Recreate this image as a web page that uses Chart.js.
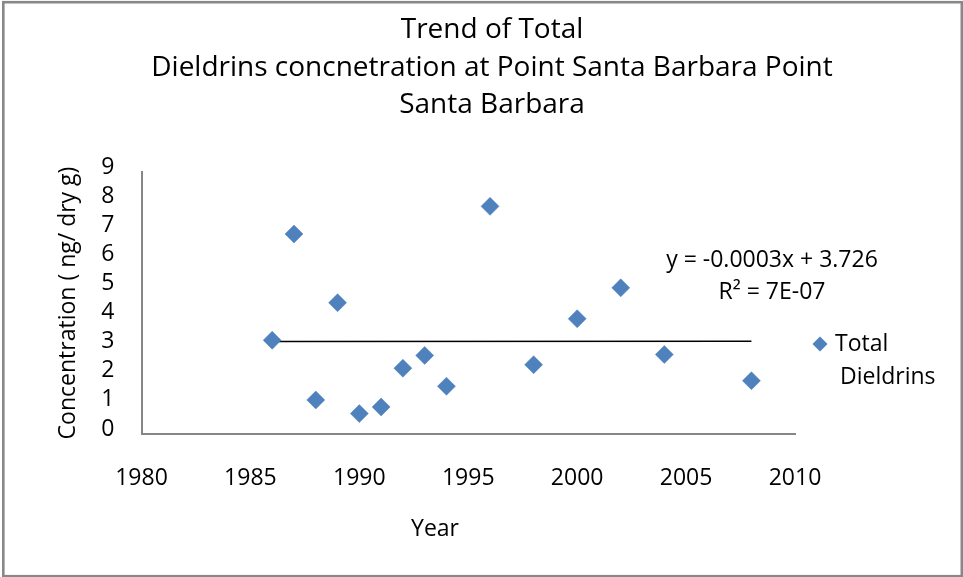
<!DOCTYPE html>
<html>
<head>
<meta charset="utf-8">
<script src="https://cdn.jsdelivr.net/npm/chart.js@4"></script>
<style>
  html, body { margin: 0; padding: 0; background: #fff; }
  #wrap { width: 963px; height: 577px; }
</style>
</head>
<body>
<div id="wrap"><canvas id="c" width="963" height="577"></canvas></div>
<script>
const titleLines = ['Trend of Total', 'Dieldrins concnetration at Point Santa Barbara Point', 'Santa Barbara'];
const years = [1986, 1987, 1988, 1989, 1990, 1991, 1992, 1993, 1994, 1996, 1998, 2000, 2002, 2004, 2008];
const dieldrins = [3.22, 6.87, 1.17, 4.51, 0.70, 0.93, 2.26, 2.70, 1.64, 7.82, 2.38, 3.96, 5.02, 2.73, 1.83];
const seriesName = ['Total', 'Dieldrins'];
const equationText = ['y = -0.0003x + 3.726', 'R\u00B2 = 7E-07'];
const xTitle = 'Year';
const yTitle = 'Concentration ( ng/ dry g)';
const xMin = 1980, xMax = 2010, xStep = 5;
const yMin = 0, yMax = 9, yStep = 1;

// least-squares trend line from the data
const n = years.length;
const mx = years.reduce((a, b) => a + b, 0) / n;
const my = dieldrins.reduce((a, b) => a + b, 0) / n;
let sxy = 0, sxx = 0;
for (let i = 0; i < n; i++) { sxy += (years[i] - mx) * (dieldrins[i] - my); sxx += (years[i] - mx) ** 2; }
const slope = sxy / sxx, icpt = my - slope * mx;
const trendX = [Math.min(...years), Math.max(...years)];
const trendPts = trendX.map(x => ({ x: x, y: slope * x + icpt }));

const FONT = "'Open Sans', 'DejaVu Sans', sans-serif";
const BLUE = '#4F81BD';
const AXIS = '#868686';

const overlay = {
  id: 'overlay',
  afterDraw(chart) {
    const ctx = chart.ctx;
    ctx.save();
    ctx.fillStyle = '#000';
    ctx.textAlign = 'center';
    ctx.textBaseline = 'middle';
    // title
    ctx.font = '28px ' + FONT;
    const ty = [30, 68, 105];
    titleLines.forEach((t, i) => ctx.fillText(t, 492, ty[i]));
    // equation
    ctx.font = '23px ' + FONT;
    ctx.fillText(equationText[0], 772, 260);
    ctx.fillText(equationText[1], 772, 292);
    // x title
    ctx.fillText(xTitle, 435, 529);
    // legend
    ctx.fillStyle = BLUE;
    ctx.beginPath();
    const lx = 820, ly = 344, r = 7.5;
    ctx.moveTo(lx - r, ly); ctx.lineTo(lx, ly - r); ctx.lineTo(lx + r, ly); ctx.lineTo(lx, ly + r);
    ctx.closePath(); ctx.fill();
    ctx.fillStyle = '#000';
    ctx.textAlign = 'left';
    ctx.fillText(seriesName[0], 835, 344);
    ctx.fillText(seriesName[1], 840, 377);
    // outer border
    ctx.strokeStyle = '#888888';
    ctx.lineWidth = 2.6;
    ctx.strokeRect(3.3, 2.2, 958.5, 574);
    ctx.restore();
  }
};

new Chart(document.getElementById('c'), {
  type: 'scatter',
  data: {
    datasets: [
      {
        label: seriesName.join(' '),
        data: years.map((x, i) => ({ x: x, y: dieldrins[i] })),
        pointStyle: 'rectRot',
        pointRadius: 9,
        pointHoverRadius: 9,
        backgroundColor: BLUE,
        borderColor: BLUE,
        borderWidth: 0.5,
        order: 1
      },
      {
        label: 'Linear',
        type: 'line',
        data: trendPts,
        borderColor: '#000',
        borderWidth: 1.5,
        pointRadius: 0,
        fill: false,
        order: 2
      }
    ]
  },
  options: {
    responsive: false,
    animation: false,
    devicePixelRatio: 1,
    layout: { padding: { left: 0, right: 168, top: 172, bottom: 0 } },
    plugins: {
      legend: { display: false },
      tooltip: { enabled: false },
      title: { display: false }
    },
    scales: {
      x: {
        type: 'linear',
        min: xMin, max: xMax,
        afterFit(s) { s.height = 143; },
        grid: { display: false, drawTicks: false },
        border: { display: true, color: AXIS, width: 2 },
        ticks: {
          stepSize: xStep,
          padding: 31,
          autoSkip: false,
          color: '#000',
          font: { family: FONT, size: 23 },
          callback: v => String(v),
          maxRotation: 0
        }
      },
      y: {
        type: 'linear',
        min: yMin, max: yMax,
        afterFit(s) { s.width = 141.5; },
        grid: { display: false, drawTicks: false },
        border: { display: true, color: AXIS, width: 2 },
        title: {
          display: true,
          text: yTitle,
          color: '#000',
          font: { family: FONT, size: 23 },
          padding: { top: 55, bottom: 0 }
        },
        ticks: {
          stepSize: yStep,
          padding: 27,
          labelOffset: -5,
          autoSkip: false,
          color: '#000',
          font: { family: FONT, size: 23 },
          callback: v => String(v)
        }
      }
    }
  },
  plugins: [overlay]
});
</script>
</body>
</html>
